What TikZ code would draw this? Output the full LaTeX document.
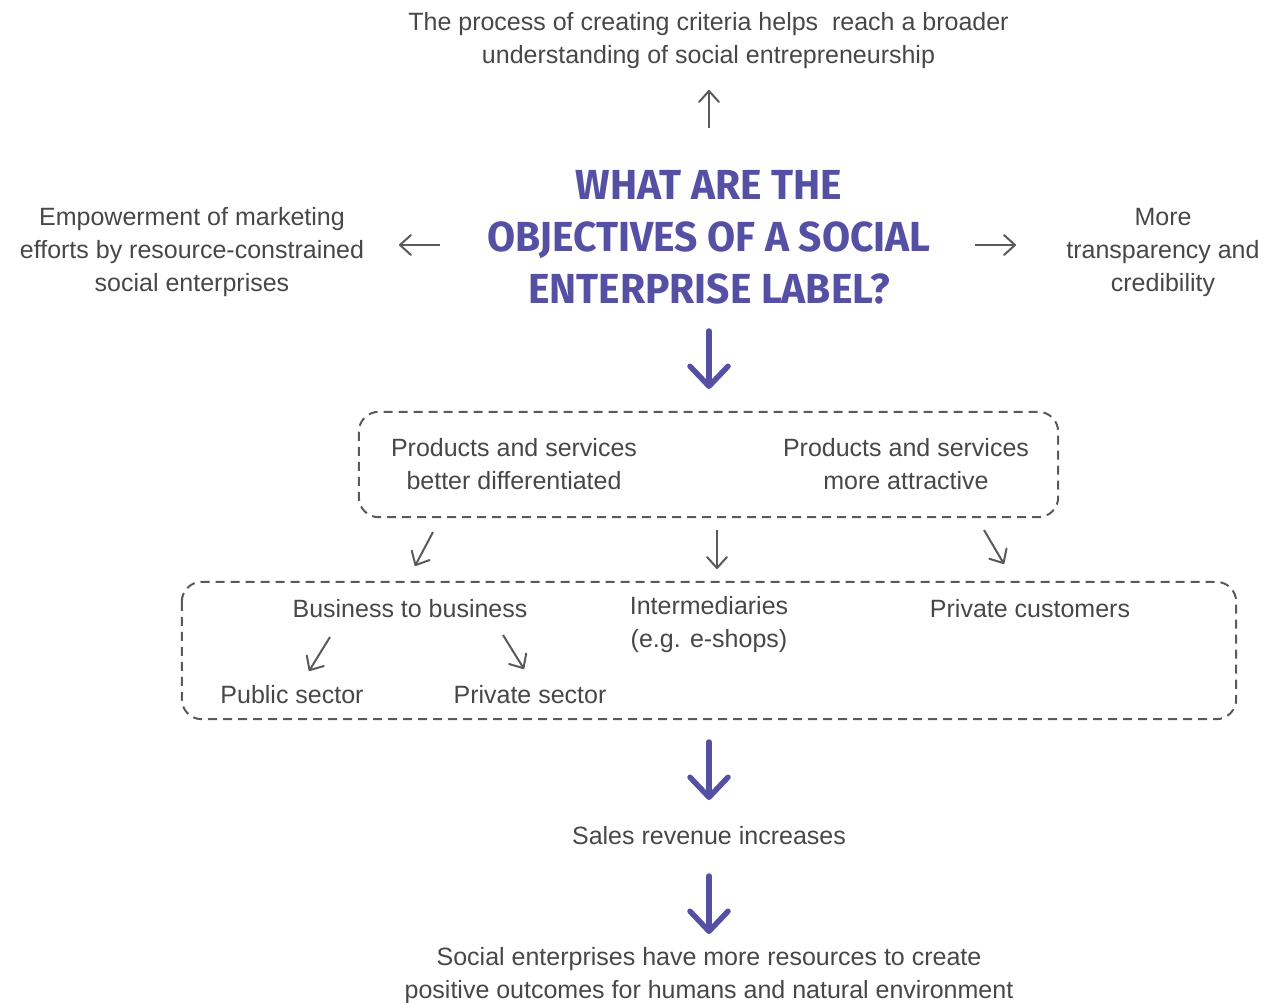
\documentclass[tikz,border=0pt]{standalone}
\usepackage{fontspec}
\setmainfont{Liberation Sans}
\newfontfamily\titlefont[FakeStretch=0.97]{Fira Sans}
\usetikzlibrary{arrows.meta}
\definecolor{txtc}{HTML}{474747}
\definecolor{pur}{HTML}{5550A3}
\definecolor{lnc}{HTML}{5A5A5A}
\begin{document}
\begin{tikzpicture}[x=1pt,y=-1pt,
  lbl/.style={text=txtc, align=center, font=\fontsize{25}{33}\selectfont, inner sep=0pt, yshift=-2.5pt},
  lbll/.style={lbl, yshift=2pt},
  ttl/.style={text=pur, align=center, font=\titlefont\bfseries\fontsize{42}{52}\selectfont, inner sep=0pt},
  thinarrow/.style={draw=lnc, line width=2pt, -{Straight Barb[length=11pt,width=20pt,round]}},
  bigarrow/.style={draw=pur, line width=5.5pt, line cap=round, -{Straight Barb[length=20pt,width=38pt,round]}},
  dbox/.style={draw=lnc, line width=2pt, dash pattern=on 9pt off 6pt, rounded corners=20pt}]
\useasboundingbox (0,0) rectangle (1283,1002);
% texts
\node[lbl] (top) at (708.5,38) {The process of creating criteria helps~ reach a broader\\understanding of social entrepreneurship};
\node[ttl] (title) at (709,237) {WHAT ARE THE\\OBJECTIVES OF A SOCIAL\\ENTERPRISE LABEL?};
\node[lbl] (left) at (192,250) {Empowerment of marketing\\efforts by resource-constrained\\social enterprises};
\node[lbl] (right) at (1163,250) {More\\transparency and\\credibility};
% box 1
\node[draw=none, minimum width=699pt, minimum height=105pt, inner sep=0pt] (box1) at (708.5,464.5) {};
\draw[dbox] (box1.north west) rectangle (box1.south east);
\node[lbll] (diff) at (514,463.5) {Products and services\\better differentiated};
\node[lbll] (attr) at (906,463.5) {Products and services\\more attractive};
% box 2
\node[draw=none, minimum width=1054pt, minimum height=137pt, inner sep=0pt] (box2) at (709,650.5) {};
\draw[dbox] (box2.north west) rectangle (box2.south east);
\node[lbll] (b2b) at (410,608) {Business to business};
\node[lbll] (inter) at (709,624.5) {Intermediaries\\(e.g. e-shops)};
\node[lbll] (priv) at (1030,608) {Private customers};
\node[lbll] (pub) at (292,694) {Public sector};
\node[lbll] (privs) at (530,694) {Private sector};
\node[lbll] (sales) at (709,835) {Sales revenue increases};
\node[lbl] (final) at (709,973.5) {Social enterprises have more resources to create\\positive outcomes for humans and natural environment};
% arrow coordinates
\coordinate (u1) at (709,128); \coordinate (u2) at (709,90);
\coordinate (l1) at (440,245); \coordinate (l2) at (399,245);
\coordinate (r1) at (975,245); \coordinate (r2) at (1016,245);
\coordinate (d1) at (709,331); \coordinate (d2) at (709,389);
\coordinate (a1) at (433,532); \coordinate (a2) at (415,566);
\coordinate (b1) at (717,530); \coordinate (b2) at (717,569);
\coordinate (c1) at (984,530); \coordinate (c2) at (1004,564);
\coordinate (e1) at (330,637); \coordinate (e2) at (309,671);
\coordinate (f1) at (503,635); \coordinate (f2) at (524,669);
\coordinate (g1) at (709,742); \coordinate (g2) at (709,800);
\coordinate (h1) at (709,876); \coordinate (h2) at (709,934);
\draw[thinarrow] (u1) -- (u2);
\draw[thinarrow] (l1) -- (l2);
\draw[thinarrow] (r1) -- (r2);
\draw[bigarrow] (d1) -- (d2);
\draw[thinarrow] (a1) -- (a2);
\draw[thinarrow] (b1) -- (b2);
\draw[thinarrow] (c1) -- (c2);
\draw[thinarrow] (e1) -- (e2);
\draw[thinarrow] (f1) -- (f2);
\draw[bigarrow] (g1) -- (g2);
\draw[bigarrow] (h1) -- (h2);
\end{tikzpicture}
\end{document}
